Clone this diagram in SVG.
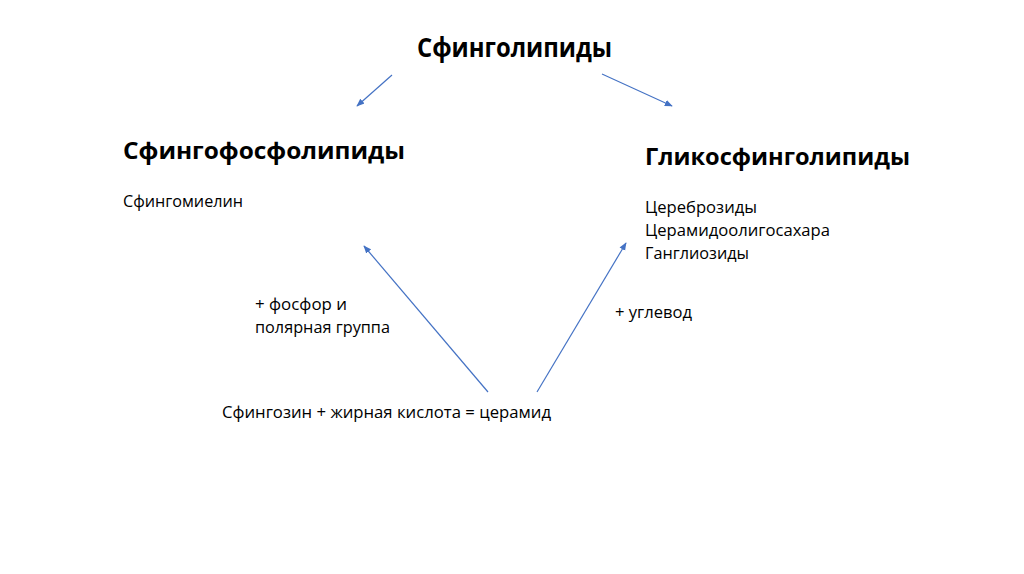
<svg xmlns="http://www.w3.org/2000/svg" width="1024" height="574" viewBox="0 0 1024 574">
<style>
text{font-family:"Open Sans","Noto Sans",sans-serif;fill:#000}
.t{font-size:26px;font-weight:bold}
.h{font-size:24px;font-weight:bold}
.b{font-size:16.5px}
.c line{stroke:#4472C4;stroke-width:1.2;marker-end:url(#a)}
</style>
<defs>
<marker id="a" viewBox="0 0 10 10" refX="9" refY="5" markerWidth="8" markerHeight="8" orient="auto" markerUnits="userSpaceOnUse">
<path d="M0,1 L10,5 L0,9 Z" fill="#4472C4"/>
</marker>
</defs>
<rect width="1024" height="574" fill="#fff"/>
<g id="title"><text class="t" x="417" y="57" textLength="195" lengthAdjust="spacingAndGlyphs">Сфинголипиды</text></g>
<g id="sphingophospho">
<text class="h" x="123" y="159" textLength="282" lengthAdjust="spacingAndGlyphs">Сфингофосфолипиды</text>
<text class="b" x="123" y="207" textLength="120" lengthAdjust="spacingAndGlyphs">Сфингомиелин</text>
</g>
<g id="glyco">
<text class="h" x="645" y="165" textLength="265" lengthAdjust="spacingAndGlyphs">Гликосфинголипиды</text>
<text class="b" x="645" y="213" textLength="112" lengthAdjust="spacingAndGlyphs">Цереброзиды</text>
<text class="b" x="645" y="236" textLength="185" lengthAdjust="spacingAndGlyphs">Церамидоолигосахара</text>
<text class="b" x="645" y="259" textLength="104" lengthAdjust="spacingAndGlyphs">Ганглиозиды</text>
</g>
<g id="label-phos">
<text class="b" x="255" y="310" textLength="92" lengthAdjust="spacingAndGlyphs">+ фосфор и</text>
<text class="b" x="255" y="333" textLength="135" lengthAdjust="spacingAndGlyphs">полярная группа</text>
</g>
<g id="label-carb"><text class="b" x="615" y="318" textLength="77" lengthAdjust="spacingAndGlyphs">+ углевод</text></g>
<g id="ceramide"><text class="b" x="222" y="418" textLength="329" lengthAdjust="spacingAndGlyphs">Сфингозин + жирная кислота = церамид</text></g>
<g id="connectors" class="c">
<line x1="392" y1="75" x2="357" y2="106"/>
<line x1="602" y1="74" x2="672" y2="106"/>
<line x1="488" y1="392" x2="364" y2="246"/>
<line x1="537" y1="392" x2="626" y2="243"/>
</g>
</svg>
